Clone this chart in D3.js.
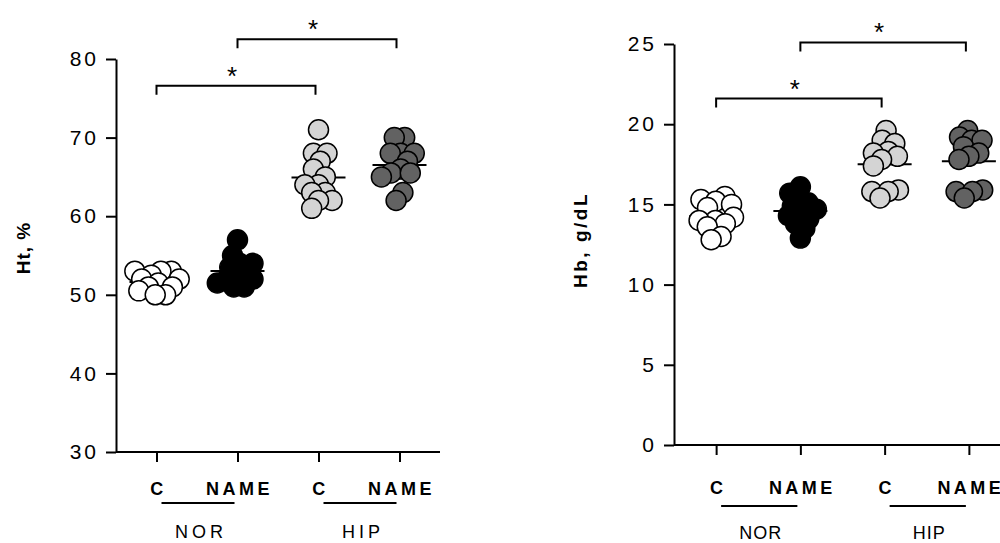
<!DOCTYPE html>
<html>
<head>
<meta charset="utf-8">
<script src="https://cdn.jsdelivr.net/npm/d3@7"></script>
<style>
  body { margin: 0; background: #fff; }
  svg { display: block; font-family: "Liberation Sans", Arial, sans-serif; }
  .axis path, .axis line { stroke: #000; stroke-width: 2px; }
  .axis text { fill: #000; }
</style>
</head>
<body>
<div id="chart"></div>
<script>
// categories
const groups = ['C', 'NAME', 'C', 'NAME'];
const conditions = ['NOR', 'HIP'];
const fills = ['#ffffff', '#000000', '#d4d4d4', '#626262'];

// Ht, % per group (C NOR, NAME NOR, C HIP, NAME HIP)
const htCNor = [53, 53, 53, 52.5, 52, 52, 51.5, 51, 51, 50.5, 50, 50];
const htNameNor = [57, 55, 54, 54, 53.5, 53, 52.5, 52, 52, 51.5, 51, 51];
const htCHip = [71, 68, 68, 67, 66, 65, 64, 64, 63, 63, 62, 62, 61];
const htNameHip = [70, 70, 68, 68, 68, 67, 66, 65.5, 65.5, 65, 63, 62];
const htTicks = [30, 40, 50, 60, 70, 80];

// Hb, g/dL per group
const hbCNor = [15.5, 15.3, 15.2, 15, 14.8, 14.2, 14, 14, 13.8, 13.6, 13, 12.8];
const hbNameNor = [16.1, 15.7, 15.4, 15.1, 14.9, 14.7, 14.5, 14.3, 14.1, 13.8, 13.5, 12.9];
const hbCHip = [19.6, 19, 18.8, 18.3, 18.2, 18, 17.8, 17.4, 15.9, 15.8, 15.8, 15.4];
const hbNameHip = [19.6, 19.2, 19, 19, 18.6, 18.2, 18, 17.8, 15.9, 15.8, 15.8, 15.4];
const hbTicks = [0, 5, 10, 15, 20, 25];

// significance brackets: [from group, to group, height in data units]
const htBrackets = [[0, 2, 76.6], [1, 3, 82.5]];
const hbBrackets = [[0, 2, 21.6], [1, 3, 25.1]];

const width = 1000;
const height = 543;
const radius = 10;

const svg = d3.select('#chart').append('svg')
    .attr('width', width)
    .attr('height', height);

const panels = [
    { label: 'Ht, %', labelX: 23, labelY: 248, labelSpacing: 1,
      series: [htCNor, htNameNor, htCHip, htNameHip], ticks: htTicks, brackets: htBrackets,
      domain: [30, 80], xRange: [116, 440], yRange: [452, 59],
      catPad: 20, lineY: 503, groupY: 538, groupSpacing: 4 },
    { label: 'Hb, g/dL', labelX: 580, labelY: 240, labelSpacing: 2.5,
      series: [hbCNor, hbNameNor, hbCHip, hbNameHip], ticks: hbTicks, brackets: hbBrackets,
      domain: [0, 25], xRange: [674, 1011], yRange: [445, 44],
      catPad: 26, lineY: 506, groupY: 539, groupSpacing: 1 }
];

panels.forEach(p => {
    const x = d3.scalePoint()
        .domain(d3.range(groups.length))
        .range(p.xRange)
        .padding(0.5);
    const y = d3.scaleLinear()
        .domain(p.domain)
        .range(p.yRange);
    const g = svg.append('g');

    // y axis
    const yAxis = g.append('g')
        .attr('class', 'axis')
        .attr('transform', `translate(${p.xRange[0]},0)`)
        .call(d3.axisLeft(y).tickValues(p.ticks).tickSize(10).tickSizeOuter(0).tickPadding(7));
    yAxis.selectAll('text')
        .style('font-size', '21px')
        .style('letter-spacing', '3px');

    // x axis with category names
    const xAxis = g.append('g')
        .attr('class', 'axis')
        .attr('transform', `translate(0,${p.yRange[0]})`)
        .call(d3.axisBottom(x).tickFormat(i => groups[i]).tickSize(10).tickSizeOuter(0).tickPadding(p.catPad));
    xAxis.select('.domain').attr('d', `M${p.xRange[0]},0H${p.xRange[1]}`);
    xAxis.selectAll('text')
        .style('font-size', '18px')
        .style('font-weight', 'bold')
        .style('letter-spacing', '3.5px')
        .attr('dx', '1.5px');

    // condition underlines and labels
    conditions.forEach((c, k) => {
        const x0 = x(k * 2);
        const x1 = x(k * 2 + 1);
        g.append('line')
            .attr('x1', x0 + 5).attr('x2', x1 - 3)
            .attr('y1', p.lineY).attr('y2', p.lineY)
            .attr('stroke', '#000').attr('stroke-width', 2);
        g.append('text')
            .attr('x', (x0 + x1) / 2 + p.groupSpacing / 2 + 2)
            .attr('y', p.groupY)
            .attr('text-anchor', 'middle')
            .style('font-size', '18px')
            .style('letter-spacing', p.groupSpacing + 'px')
            .text(c);
    });

    // axis title
    g.append('text')
        .attr('transform', `translate(${p.labelX},${p.labelY}) rotate(-90)`)
        .attr('text-anchor', 'middle')
        .attr('dy', '0.35em')
        .style('font-size', '19px')
        .style('font-weight', 'bold')
        .style('letter-spacing', p.labelSpacing + 'px')
        .text(p.label);

    // mean lines (under the dots)
    p.series.forEach((vals, i) => {
        const m = d3.mean(vals);
        g.append('line')
            .attr('x1', x(i) - 27).attr('x2', x(i) + 27)
            .attr('y1', y(m)).attr('y2', y(m))
            .attr('stroke', '#000').attr('stroke-width', 2);
    });

    // dots, spread sideways with a small swarm simulation
    p.series.forEach((vals, i) => {
        const nodes = vals.map(v => ({ v, fy: y(v) }));
        const sim = d3.forceSimulation(nodes)
            .force('x', d3.forceX(0).strength(0.12))
            .force('collide', d3.forceCollide(radius * 0.52))
            .stop();
        for (let t = 0; t < 300; t++) sim.tick();
        g.append('g')
            .selectAll('circle')
            .data(nodes)
            .join('circle')
            .attr('cx', d => x(i) + d.x)
            .attr('cy', d => y(d.v))
            .attr('r', radius)
            .attr('fill', fills[i])
            .attr('stroke', '#000')
            .attr('stroke-width', 1.5);
    });

    // significance brackets
    p.brackets.forEach(([a, b, v]) => {
        const by = y(v);
        const xa = x(a);
        const xb = x(b) - 3;
        g.append('path')
            .attr('d', `M${xa},${by + 9}V${by}H${xb}V${by + 9}`)
            .attr('fill', 'none')
            .attr('stroke', '#000')
            .attr('stroke-width', 2);
        g.append('text')
            .attr('x', (xa + xb) / 2 - 4)
            .attr('y', by - 1)
            .attr('text-anchor', 'middle')
            .style('font-size', '26px')
            .text('*');
    });
});
</script>
</body>
</html>
